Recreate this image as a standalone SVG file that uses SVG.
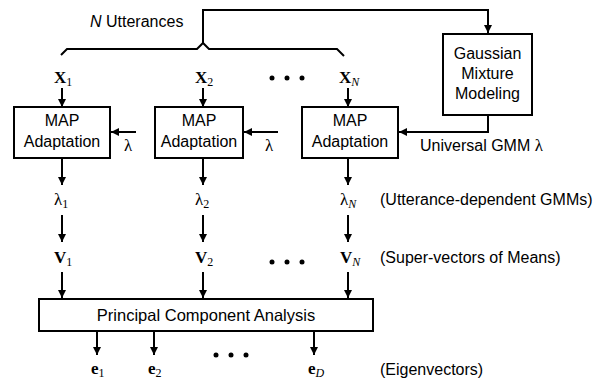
<svg xmlns="http://www.w3.org/2000/svg" width="609" height="379" viewBox="0 0 609 379">
<defs>
<marker id="ah" viewBox="0 0 10 10" refX="10" refY="5" markerWidth="8" markerHeight="8" markerUnits="userSpaceOnUse" orient="auto">
<path d="M0,0 L10,5 L0,10 z" fill="#000"/>
</marker>
<style>
.box{fill:#fff;stroke:#000;stroke-width:2}
.ln{fill:none;stroke:#000;stroke-width:2}
.ar{fill:none;stroke:#000;stroke-width:2;marker-end:url(#ah)}
.t{font-family:"Liberation Sans",Arial,sans-serif;font-size:16px;fill:#000}
.m{font-family:"Liberation Serif","Times New Roman",serif;font-size:17px;fill:#000}
.b{font-weight:bold}
.s{font-size:12px}
.i{font-style:italic}
.dot{fill:#000}
</style>
</defs>
<g id="connectors">
<polyline class="ar" points="203,43 203,10 488,10 488,33"/>
<polyline class="ln" points="61,55 67,49 197,49 203,43 209,49 337,49 344,56"/>
<line class="ar" x1="62" y1="88" x2="62" y2="107"/>
<line class="ar" x1="203" y1="88" x2="203" y2="107"/>
<line class="ar" x1="348" y1="88" x2="348" y2="107"/>
<line class="ar" x1="136" y1="132" x2="111" y2="132"/>
<line class="ar" x1="278" y1="132" x2="244" y2="132"/>
<polyline class="ar" points="488,115 488,132 399,132"/>
<line class="ar" x1="62" y1="158" x2="62" y2="185"/>
<line class="ar" x1="203" y1="158" x2="203" y2="185"/>
<line class="ar" x1="348" y1="158" x2="348" y2="185"/>
<line class="ar" x1="62" y1="215" x2="62" y2="242"/>
<line class="ar" x1="203" y1="215" x2="203" y2="242"/>
<line class="ar" x1="348" y1="215" x2="348" y2="242"/>
<line class="ar" x1="62" y1="272" x2="62" y2="298"/>
<line class="ar" x1="203" y1="272" x2="203" y2="298"/>
<line class="ar" x1="348" y1="272" x2="348" y2="298"/>
<line class="ar" x1="97" y1="331" x2="97" y2="355"/>
<line class="ar" x1="154" y1="331" x2="154" y2="355"/>
<line class="ar" x1="314" y1="331" x2="314" y2="355"/>
</g>
<g id="utterances-label">
<text class="t" x="90" y="27"><tspan class="i">N</tspan> Utterances</text>
</g>
<g id="x-labels">
<text class="m" x="54" y="83"><tspan class="b">X</tspan><tspan class="s" dy="3">1</tspan></text>
<text class="m" x="195" y="83"><tspan class="b">X</tspan><tspan class="s" dy="3">2</tspan></text>
<text class="m" x="339" y="83"><tspan class="b">X</tspan><tspan class="s i" dy="3">N</tspan></text>
<circle class="dot" cx="272" cy="78" r="2.5"/><circle class="dot" cx="287" cy="78" r="2.5"/><circle class="dot" cx="302" cy="78" r="2.5"/>
</g>
<g id="gmm">
<rect class="box" x="443" y="34" width="89" height="81"/>
<text class="t" x="487.5" y="59" text-anchor="middle">Gaussian</text>
<text class="t" x="487.5" y="79" text-anchor="middle">Mixture</text>
<text class="t" x="487.5" y="99" text-anchor="middle">Modeling</text>
</g>
<g id="map1">
<rect class="box" x="14" y="107" width="96" height="51"/>
<text class="t" x="62" y="126" text-anchor="middle">MAP</text>
<text class="t" x="62" y="147" text-anchor="middle">Adaptation</text>
</g>
<g id="map2">
<rect class="box" x="155" y="107" width="88" height="51"/>
<text class="t" x="199" y="126" text-anchor="middle">MAP</text>
<text class="t" x="199" y="147" text-anchor="middle">Adaptation</text>
</g>
<g id="map3">
<rect class="box" x="302" y="107" width="96" height="51"/>
<text class="t" x="350" y="126" text-anchor="middle">MAP</text>
<text class="t" x="350" y="147" text-anchor="middle">Adaptation</text>
</g>
<g id="lambda-inputs">
<text class="m" x="124" y="151">λ</text>
<text class="m" x="265" y="151">λ</text>
<text class="t" x="420" y="151">Universal GMM  <tspan class="m">λ</tspan></text>
</g>
<g id="lambda-outputs">
<text class="m" x="54" y="205">λ<tspan class="s" dy="3">1</tspan></text>
<text class="m" x="195" y="205">λ<tspan class="s" dy="3">2</tspan></text>
<text class="m" x="340" y="205">λ<tspan class="s i" dy="3">N</tspan></text>
<text class="t" x="380" y="205">(Utterance-dependent GMMs)</text>
</g>
<g id="v-labels">
<text class="m" x="54" y="263"><tspan class="b">V</tspan><tspan class="s" dy="3">1</tspan></text>
<text class="m" x="195" y="263"><tspan class="b">V</tspan><tspan class="s" dy="3">2</tspan></text>
<text class="m" x="340" y="263"><tspan class="b">V</tspan><tspan class="s i" dy="3">N</tspan></text>
<circle class="dot" cx="272" cy="262" r="2.5"/><circle class="dot" cx="287" cy="262" r="2.5"/><circle class="dot" cx="302" cy="262" r="2.5"/>
<text class="t" x="380" y="263">(Super-vectors of Means)</text>
</g>
<g id="pca">
<rect class="box" x="39" y="299" width="334" height="32"/>
<text class="t" x="206" y="321" text-anchor="middle" style="font-size:16.5px">Principal Component Analysis</text>
</g>
<g id="e-labels">
<text class="m" x="91" y="374"><tspan class="b">e</tspan><tspan class="s" dy="3">1</tspan></text>
<text class="m" x="148" y="374"><tspan class="b">e</tspan><tspan class="s" dy="3">2</tspan></text>
<text class="m" x="308" y="374"><tspan class="b">e</tspan><tspan class="s i" dy="3">D</tspan></text>
<circle class="dot" cx="216" cy="355" r="2.5"/><circle class="dot" cx="231" cy="355" r="2.5"/><circle class="dot" cx="246" cy="355" r="2.5"/>
<text class="t" x="380" y="375">(Eigenvectors)</text>
</g>
</svg>
